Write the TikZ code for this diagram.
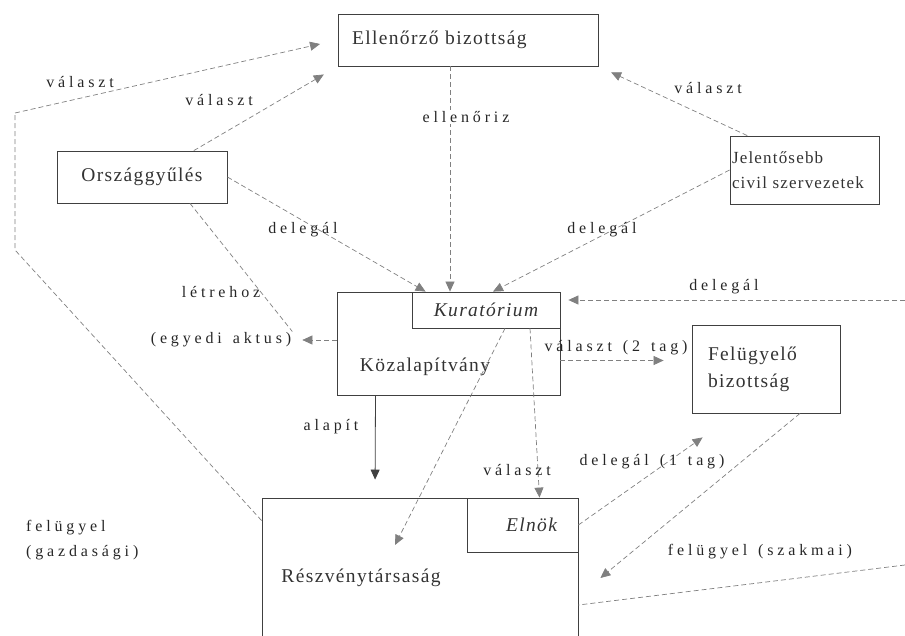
\documentclass[tikz,border=0pt]{standalone}
\usepackage{fontspec}
\setmainfont{Liberation Serif}
\newfontfamily\boxfont[LetterSpace=7,WordSpace=1.8]{Liberation Serif}
\newfontfamily\lblfont[LetterSpace=24,WordSpace=1.4]{Liberation Serif}
\usetikzlibrary{arrows.meta}
\tikzset{
  box/.style={draw=black!75, line width=0.8pt, inner sep=0pt, text=black!80,
    font=\boxfont\fontsize{19.5}{27}\selectfont},
  boxtxt/.style={inner sep=0pt, text=black!80, font=\boxfont\fontsize{19.5}{27}\selectfont},
  conn/.style={draw=black!50, line width=0.7pt, dash pattern=on 5pt off 3pt,
    -{Triangle[length=10pt,width=9pt]}},
  plain/.style={draw=black!50, line width=0.7pt, dash pattern=on 5pt off 3pt},
  alap/.style={draw=black!75, line width=0.8pt, -{Triangle[length=10pt,width=9pt]}},
  lbl/.style={inner sep=1pt, text=black!85, font=\lblfont\fontsize{16}{25}\selectfont},
}
\begin{document}
\begin{tikzpicture}[x=1pt,y=-1pt]
\clip (0,0) rectangle (905,636);
% boxes
\node [box, minimum height=52pt, text width=232pt, inner xsep=14pt, align=left] (ell) at (468,40) {Ellenőrző bizottság};
\node [box, minimum width=170pt, minimum height=52pt] (orsz) at (142,177) {Országgyűlés};
\node [box, minimum height=68pt, text width=145pt, inner xsep=2pt, align=left,
  font=\boxfont\fontsize{17}{25}\selectfont] (jel) at (804.5,170) {Jelentősebb\\civil szervezetek};
\node [box, minimum width=223pt, minimum height=103pt] (kozal) at (448.5,343.5) {};
\node [boxtxt] (kozaltxt) at (425,367) {Közalapítvány};
\node [box, minimum width=148pt, minimum height=36pt, font=\boxfont\itshape\fontsize{19.5}{27}\selectfont] (kur) at (486,310) {Kuratórium};
\node [box, minimum height=88pt, text width=132pt, inner xsep=8pt, align=left] (felu) at (766,369) {\hspace*{8pt}Felügyelő\\\hspace*{8pt}bizottság};
\node [box, minimum width=316pt, minimum height=142pt] (rt) at (420,569) {};
\node [boxtxt] (rttxt) at (361,578) {Részvénytársaság};
\node [box, minimum height=54pt, text width=69pt, inner xsep=21pt, align=right, font=\boxfont\itshape\fontsize{19.5}{27}\selectfont] (eln) at (522.5,525) {Elnök};
\node [lbl, align=left, anchor=west] (gazd) at (25,540) {felügyel\\(gazdasági)};
\node [lbl] (egyedi) at (221,340) {(egyedi aktus)};
\coordinate (bal1) at (15,250);
\coordinate (bal2) at (15,113);
\coordinate (kivul1) at (905,300);
\coordinate (kivul2) at (905,565);
% connectors
\draw [plain] (rt.163) -- (bal1) -- (bal2);
\draw [conn, shorten >=18pt] (bal2) -- (ell.west);
\draw [conn, shorten >=16pt] (orsz.27) -- (ell.south west);
\draw [conn, shorten >=14pt] (jel.149) -- (ell.south east);
\draw [conn] ([xshift=-18pt]ell.south) -- ([xshift=-36pt]kur.north);
\draw [conn] (orsz.east) -- ([xshift=14pt]kur.north west);
\draw [conn] (jel.west) -- ([xshift=7pt]kur.north);
\draw [plain] ([xshift=48pt]orsz.south) -- (egyedi.north east);
\draw [conn, shorten >=10pt] (kozal.west |- egyedi.east) -- (egyedi.east);
\draw [conn, shorten >=8pt] (kivul1) -- (kivul1 -| kozal.east);
\draw [conn, shorten >=28pt] ([yshift=-17pt]kozal.east) -- ([yshift=-17pt]kozal.east -| felu.west);
\draw [alap, shorten >=18pt] ([xshift=-73pt]kozal.south) -- ([xshift=-45pt]rt.north);
\draw [conn] ([xshift=19pt]kur.south) -- ([xshift=-25pt,yshift=24pt]rt.center);
\draw [conn] ([xshift=44pt]kur.south) -- ([xshift=17pt]eln.north);
\draw [conn] (eln.east) -- ([xshift=11pt,yshift=-24pt]felu.south west);
\draw [conn] ([xshift=34pt]felu.south) -- ([xshift=22pt,yshift=-9pt]rt.east);
\draw [plain] (kivul2) -- ([yshift=-36pt]rt.east);
% labels
\node [lbl] (l1) at (80,82) {választ};
\node [lbl] (l2) at (219,100) {választ};
\node [lbl, fill=white] (l3) at (466,117) {ellenőriz};
\node [lbl] (l4) at (708,88) {választ};
\node [lbl] (l5) at (303,230) {delegál};
\node [lbl] (l6) at (602,230) {delegál};
\node [lbl] (l7) at (221,292) {létrehoz};
\node [lbl] (l8) at (724,287) {delegál};
\node [lbl] (l9) at (616,348) {választ (2 tag)};
\node [lbl] (l10) at (331,427) {alapít};
\node [lbl] (l11) at (517,470) {választ};
\node [lbl] (l12) at (652,462) {delegál (1 tag)};
\node [lbl] (l13) at (760,552) {felügyel (szakmai)};
\end{tikzpicture}
\end{document}
